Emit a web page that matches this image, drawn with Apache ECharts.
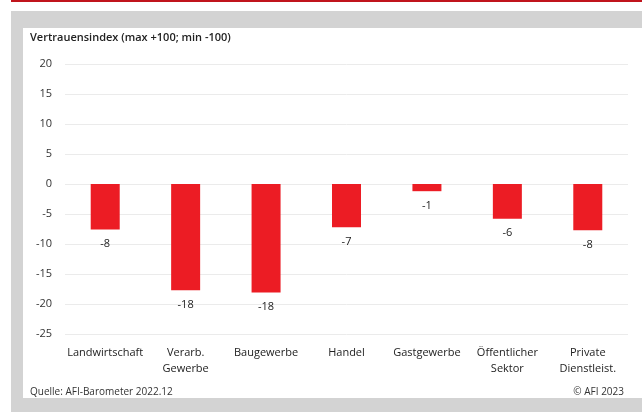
<!DOCTYPE html>
<html><head><meta charset="utf-8">
<script src="https://cdn.jsdelivr.net/npm/echarts@6/dist/echarts.min.js"></script>
<style>html,body{margin:0;padding:0;background:#fff}#c{width:642px;height:412px}</style>
</head><body><div id="c"></div>
<script>
const categories = ['Landwirtschaft', 'Verarb.\nGewerbe', 'Baugewerbe', 'Handel', 'Gastgewerbe', 'Öffentlicher\nSektor', 'Private\nDienstleist.'];
const values = [-7.6, -17.7, -18.1, -7.2, -1.2, -5.8, -7.7];
const yTicks = [20, 15, 10, 5, 0, -5, -10, -15, -20, -25];

const chart = echarts.init(document.getElementById('c'));
const font = 'Open Sans, Noto Sans, sans-serif';
chart.setOption({
  animation: false,
  backgroundColor: '#ffffff',
  graphic: [
    {type: 'rect', shape: {x: 11, y: 0, width: 631, height: 2}, style: {fill: '#c0141c'}, silent: true, z: -10},
    {type: 'rect', shape: {x: 11, y: 11, width: 631, height: 401}, style: {fill: '#d3d3d3'}, silent: true, z: -10},
    {type: 'rect', shape: {x: 23, y: 28, width: 619, height: 370}, style: {fill: '#ffffff'}, silent: true, z: -9},
    {type: 'text', left: 30, top: 32, style: {text: 'Vertrauensindex (max +100; min -100)', font: '600 11px ' + font, fill: '#222'}},
    {type: 'text', left: 30, top: 387, style: {text: 'Quelle: AFI-Barometer 2022.12', font: '10px ' + font, fill: '#333'}},
    {type: 'text', right: 18, top: 387, style: {text: '© AFI 2023', font: '10px ' + font, fill: '#333'}}
  ],
  grid: {left: 65, right: 14, top: 64, bottom: 78, containLabel: false},
  xAxis: {
    type: 'category', data: categories, position: 'bottom',
    axisLine: {show: false}, axisTick: {show: false},
    axisLabel: {color: '#222', fontSize: 11, fontFamily: font, margin: 11, lineHeight: 16, interval: 0}
  },
  yAxis: {
    type: 'value', min: -25, max: 20, interval: 5,
    axisLine: {show: false}, axisTick: {show: false},
    axisLabel: {color: '#333', fontSize: 11, fontFamily: font, margin: 13,
      formatter: v => yTicks.includes(v) ? String(v) : ''},
    splitLine: {lineStyle: {color: '#ebebeb', width: 1}}
  },
  series: [{
    type: 'bar', data: values, barWidth: 29,
    itemStyle: {color: '#ec1c24'},
    label: {show: true, position: 'bottom', distance: 9, color: '#222', fontSize: 11, fontFamily: font,
      formatter: p => String(Math.round(p.value))}
  }]
});
</script></body></html>
